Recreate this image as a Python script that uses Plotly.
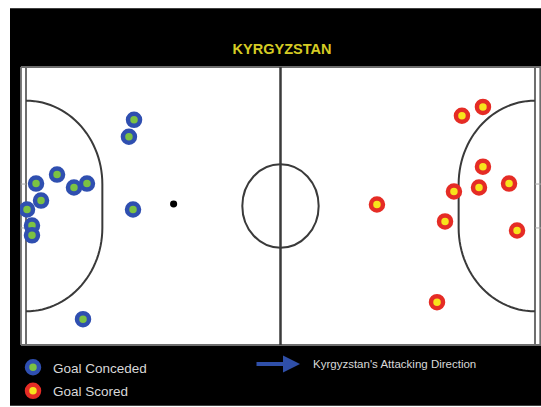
import numpy as np
import plotly.graph_objects as go

# ---------------- data (court coordinates in metres, x: 0..40, y: 0..20) ----------------
conceded_x = [8.49, 8.09, 2.44, 0.79, 3.77, 4.79, 1.18, 0.08, 0.47, 0.47, 8.41, 4.48]
conceded_y = [16.20, 14.98, 12.26, 11.61, 11.33, 11.61, 10.39, 9.75, 8.60, 7.89, 9.75, 1.86]

scored_x = [35.91, 34.26, 35.91, 37.96, 35.60, 33.63, 27.58, 32.93, 38.59, 32.30]
scored_y = [17.13, 16.49, 12.83, 11.61, 11.33, 11.04, 10.11, 8.89, 8.24, 3.08]

series_names = ["Goal Conceded", "Goal Scored"]
title_text = "KYRGYZSTAN"
direction_text = "Kyrgyzstan's Attacking Direction"

# ---------------- court geometry ----------------
L, W = 40.0, 20.0
post_lo, post_hi = 8.42, 11.58
pen_r = 6.0
centre_r = 3.0
spot = (11.6, 10.15)

line_col = "#6e6e6e"
dark_col = "#3a3a3a"

W_PX, H_PX = 541, 407
ML, MR, MT, MB = 20, 0, 66, 60
pw = W_PX - ML - MR
ph = H_PX - MT - MB


def px2paper_x(px):
    return (px - ML) / pw


def px2paper_y(py):
    return (H_PX - MB - py) / ph


def penalty_path(side):
    t1 = np.linspace(np.pi / 2, 0, 30)
    t2 = np.linspace(0, -np.pi / 2, 30)
    if side == "left":
        xs1 = 0 + pen_r * np.cos(t1)
        xs2 = 0 + pen_r * np.cos(t2)
    else:
        xs1 = L - pen_r * np.cos(t1)
        xs2 = L - pen_r * np.cos(t2)
    ys1 = post_hi + pen_r * np.sin(t1)
    ys2 = post_lo + pen_r * np.sin(t2)
    pts = list(zip(xs1, ys1)) + list(zip(xs2, ys2))
    return "M " + " L ".join(f"{x:.3f},{y:.3f}" for x, y in pts)


shapes = []
# black background panel (paper coordinates)
shapes.append(dict(type="rect", xref="paper", yref="paper",
                   x0=px2paper_x(10), x1=px2paper_x(541), y0=px2paper_y(407), y1=px2paper_y(8),
                   fillcolor="black", line=dict(width=0), layer="below"))
# white court
shapes.append(dict(type="rect", xref="x", yref="y", x0=-0.47, x1=40.48, y0=0, y1=W,
                   fillcolor="white", line=dict(width=0), layer="below"))
# outer boundary lines
for xv in (-0.4, 40.42):
    shapes.append(dict(type="line", xref="x", yref="y", x0=xv, x1=xv, y0=0, y1=W,
                       line=dict(color=line_col, width=2), layer="below"))
for yv in (0, W):
    shapes.append(dict(type="line", xref="x", yref="y", x0=-0.4, x1=40.48, y0=yv, y1=yv,
                       line=dict(color=line_col, width=2), layer="below"))
# goal lines
for xv in (0, L):
    shapes.append(dict(type="line", xref="x", yref="y", x0=xv, x1=xv, y0=0, y1=W,
                       line=dict(color=line_col, width=2), layer="below"))
# goal posts ticks
for yv in (post_lo, post_hi):
    shapes.append(dict(type="line", xref="x", yref="y", x0=-0.4, x1=0, y0=yv, y1=yv,
                       line=dict(color="#aaaaaa", width=1), layer="below"))
    shapes.append(dict(type="line", xref="x", yref="y", x0=L, x1=40.48, y0=yv, y1=yv,
                       line=dict(color="#aaaaaa", width=1), layer="below"))
# halfway line
shapes.append(dict(type="line", xref="x", yref="y", x0=L / 2, x1=L / 2, y0=0, y1=W,
                   line=dict(color=dark_col, width=2.5), layer="below"))
# centre circle
shapes.append(dict(type="circle", xref="x", yref="y",
                   x0=L / 2 - centre_r, x1=L / 2 + centre_r,
                   y0=W / 2 - centre_r, y1=W / 2 + centre_r,
                   line=dict(color=dark_col, width=2), layer="below"))
# penalty areas
for side in ("left", "right"):
    shapes.append(dict(type="path", xref="x", yref="y", path=penalty_path(side),
                       line=dict(color=dark_col, width=2), layer="below"))
# penalty spot
shapes.append(dict(type="circle", xref="x", yref="y",
                   x0=spot[0] - 0.28, x1=spot[0] + 0.28, y0=spot[1] - 0.25, y1=spot[1] + 0.25,
                   fillcolor="black", line=dict(width=0), layer="below"))

fig = go.Figure()
fig.add_trace(go.Scatter(
    x=conceded_x, y=conceded_y, mode="markers", name=series_names[0],
    marker=dict(size=12, color="#7cc242", line=dict(color="#2f4fb0", width=4.5)),
    legendgroup="a",
))
fig.add_trace(go.Scatter(
    x=scored_x, y=scored_y, mode="markers", name=series_names[1],
    marker=dict(size=12, color="#f7e41c", line=dict(color="#e52c25", width=4.5)),
    legendgroup="b",
))

annotations = [
    # attacking direction arrow
    dict(xref="paper", yref="paper", x=px2paper_x(300), y=px2paper_y(365),
         ax=-45, ay=0, text="", showarrow=True, arrowhead=2, arrowsize=0.85,
         arrowwidth=4, arrowcolor="#2f4fa8"),
    dict(xref="paper", yref="paper", x=px2paper_x(311), y=px2paper_y(365),
         xanchor="left", yanchor="middle", showarrow=False, text=direction_text,
         font=dict(family="Liberation Sans, Arial, sans-serif", size=11.5, color="#d8d8d8")),
]

fig.update_layout(
    width=W_PX, height=H_PX,
    margin=dict(l=ML, r=MR, t=MT, b=MB, pad=0),
    paper_bgcolor="white", plot_bgcolor="white",
    shapes=shapes, annotations=annotations,
    title=dict(text=f"<b>{title_text}</b>", x=282 / W_PX, xanchor="center",
               y=1 - 49 / H_PX, yanchor="middle", xref="container", yref="container",
               font=dict(family="Liberation Sans, Arial, sans-serif", size=14.5, color="#d6cc24")),
    xaxis=dict(range=[-0.4715, 40.472], visible=False, fixedrange=True),
    yaxis=dict(range=[-0.072, 20.072], visible=False, fixedrange=True),
    showlegend=True,
    legend=dict(x=px2paper_x(13), xanchor="left", y=px2paper_y(353), yanchor="top",
                bgcolor="rgba(0,0,0,0)", borderwidth=0, tracegroupgap=3,
                font=dict(family="Liberation Sans, Arial, sans-serif", size=13.5, color="#d8d8d8")),
    hovermode=False,
)

fig.write_html("out.html", config={"displayModeBar": False},
               post_script="document.body.style.margin='0';document.body.style.overflow='hidden';")
